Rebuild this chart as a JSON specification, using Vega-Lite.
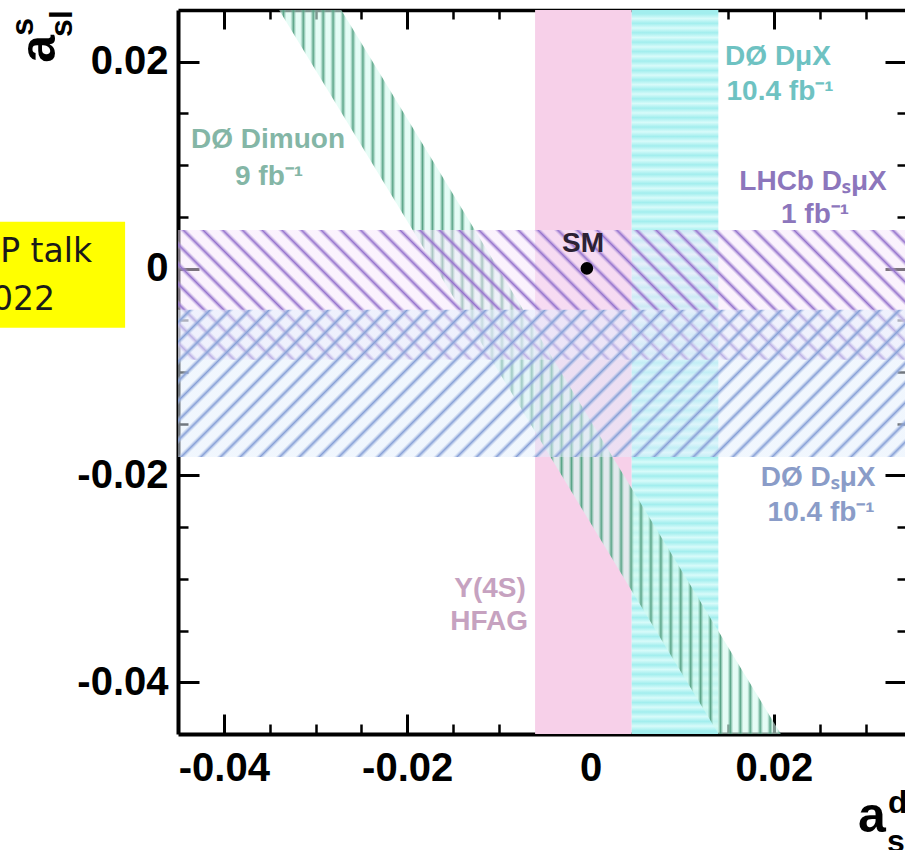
{
  "$schema": "https://vega.github.io/schema/vega-lite/v6.json",
  "width": 727,
  "height": 724,
  "autosize": {"type": "none"},
  "padding": {"left": 178, "top": 10, "right": 0, "bottom": 116},
  "background": "white",
  "config": {"view": {"stroke": null}, "axis": {"grid": false, "title": null, "zindex": 1, "tickColor": "black", "domainColor": "black", "labelColor": "black", "labelFont": "Liberation Sans", "labelFontWeight": "bold", "labelFontSize": 40, "labelOverlap": false, "labelBound": false, "labelFlush": false}},
  "datasets": {
    "bands": [
      {"band": "HFAG", "x1": -0.00605, "x2": 0.00449, "y1": -0.045, "y2": 0.025},
      {"band": "D0DmuX", "x1": 0.00449, "x2": 0.01394, "y1": -0.045, "y2": 0.025},
      {"band": "LHCb", "x1": -0.045, "x2": 0.0343, "y1": -0.00882, "y2": 0.00374},
      {"band": "D0DsmuX", "x1": -0.045, "x2": 0.0343, "y1": -0.01821, "y2": -0.00399}
    ],
    "dimuon": [
      {"x": -0.045, "ylo": 0.0411, "yhi": 0.051},
      {"x": 0.035, "ylo": -0.0757, "yhi": -0.0658}
    ],
    "labels": [
      {"text": "DØ Dimuon", "kind": "dimuon", "x": -0.03518, "y": 0.01167},
      {"text": "9 fb⁻¹", "kind": "dimuon", "x": -0.03507, "y": 0.00809},
      {"text": "DØ DμX", "kind": "dmux", "x": 0.02045, "y": 0.0197},
      {"text": "10.4 fb⁻¹", "kind": "dmux", "x": 0.02067, "y": 0.01631},
      {"text": "LHCb DₛμX", "kind": "lhcb", "x": 0.02427, "y": 0.00761},
      {"text": "1 fb⁻¹", "kind": "lhcb", "x": 0.02449, "y": 0.00442},
      {"text": "DØ DₛμX", "kind": "dsmux", "x": 0.02482, "y": -0.02102},
      {"text": "10.4 fb⁻¹", "kind": "dsmux", "x": 0.02515, "y": -0.02441},
      {"text": "Υ(4S)", "kind": "hfag", "x": -0.01096, "y": -0.03174},
      {"text": "HFAG", "kind": "hfag", "x": -0.01107, "y": -0.03493},
      {"text": "SM", "kind": "sm", "x": -0.00082, "y": 0.00161}
    ],
    "sm": [{"x": -0.0004, "y": 0.00002}],
    "note": [{"x1": -0.0665, "x2": -0.05077, "y1": 0.00452, "y2": -0.00573}],
    "noteText": [
      {"text": "ICHEP talk", "x": -0.05438, "y": 0.00065},
      {"text": "2022", "x": -0.05842, "y": -0.00399}
    ],
    "titles": [
      {"t": "a", "axis": "y", "part": "base", "x": -0.05842, "y": 0.01989},
      {"t": "s", "axis": "y", "part": "script", "x": -0.06082, "y": 0.0225},
      {"t": "sl", "axis": "y", "part": "script", "x": -0.05656, "y": 0.0224},
      {"t": "a", "axis": "x", "part": "base", "x": 0.02918, "y": -0.05446},
      {"t": "d", "axis": "x", "part": "script", "x": 0.03245, "y": -0.05263},
      {"t": "sl", "axis": "x", "part": "script", "x": 0.03235, "y": -0.0564}
    ]
  },
  "layer": [
    {
      "data": {"name": "note"},
      "mark": {"type": "rect", "clip": false, "fill": "#ffff00"},
      "encoding": {
        "x": {"field": "x1", "type": "quantitative", "scale": {"domain": [-0.045, 0.0343], "nice": false, "zero": false},
              "axis": {"orient": "bottom", "values": [-0.04, -0.02, 0, 0.02], "ticks": false, "domain": true, "domainWidth": 4, "labelPadding": 14,
                       "labelExpr": "datum.value == 0 ? '0' : (datum.value < 0 ? '-' : '') + format(abs(datum.value), '.2f')"}},
        "x2": {"field": "x2"},
        "y": {"field": "y1", "type": "quantitative", "scale": {"domain": [-0.045, 0.025], "nice": false, "zero": false},
              "axis": {"orient": "left", "values": [0.02, 0, -0.02, -0.04], "ticks": false, "domain": true, "domainWidth": 4, "labelPadding": 10,
                       "labelExpr": "datum.value == 0 ? '0' : (datum.value < 0 ? '-' : '') + format(abs(datum.value), '.2f')"}},
        "y2": {"field": "y2"}
      }
    },
    {
      "data": {"name": "bands"},
      "transform": [{"filter": "datum.band == 'HFAG'"}],
      "mark": {"type": "rect", "clip": true, "fill": "#f7d0e9"},
      "encoding": {
        "x": {"field": "x1", "type": "quantitative", "axis": {"orient": "bottom", "values": [-0.04, -0.02, 0, 0.02], "labels": false, "domain": false, "tickSize": -20, "tickWidth": 3}},
        "x2": {"field": "x2"},
        "y": {"field": "y1", "type": "quantitative", "axis": {"orient": "left", "values": [0.02, 0, -0.02, -0.04], "labels": false, "domain": false, "tickSize": -21, "tickWidth": 3}},
        "y2": {"field": "y2"}
      }
    },
    {
      "data": {"name": "bands"},
      "transform": [{"filter": "datum.band == 'D0DmuX'"}],
      "mark": {"type": "rect", "clip": true, "fill": {"gradient": "linear", "x1": 0, "y1": 0, "x2": 0, "y2": 1, "stops": [
        {"offset": 0.00534, "color": "#a2eeee"}, {"offset": 0.01186, "color": "#d8fbfa"},
        {"offset": 0.01837, "color": "#a2eeee"}, {"offset": 0.02489, "color": "#d8fbfa"},
        {"offset": 0.0314, "color": "#a2eeee"}, {"offset": 0.03792, "color": "#d8fbfa"},
        {"offset": 0.04443, "color": "#a2eeee"}, {"offset": 0.05095, "color": "#d8fbfa"},
        {"offset": 0.05746, "color": "#a2eeee"}, {"offset": 0.06398, "color": "#d8fbfa"},
        {"offset": 0.07049, "color": "#a2eeee"}, {"offset": 0.07701, "color": "#d8fbfa"},
        {"offset": 0.08352, "color": "#a2eeee"}, {"offset": 0.09004, "color": "#d8fbfa"},
        {"offset": 0.09655, "color": "#a2eeee"}, {"offset": 0.10307, "color": "#d8fbfa"},
        {"offset": 0.10958, "color": "#a2eeee"}, {"offset": 0.1161, "color": "#d8fbfa"},
        {"offset": 0.12261, "color": "#a2eeee"}, {"offset": 0.12913, "color": "#d8fbfa"},
        {"offset": 0.13564, "color": "#a2eeee"}, {"offset": 0.14216, "color": "#d8fbfa"},
        {"offset": 0.14867, "color": "#a2eeee"}, {"offset": 0.15519, "color": "#d8fbfa"},
        {"offset": 0.1617, "color": "#a2eeee"}, {"offset": 0.16822, "color": "#d8fbfa"},
        {"offset": 0.17473, "color": "#a2eeee"}, {"offset": 0.18125, "color": "#d8fbfa"},
        {"offset": 0.18776, "color": "#a2eeee"}, {"offset": 0.19428, "color": "#d8fbfa"},
        {"offset": 0.20079, "color": "#a2eeee"}, {"offset": 0.20731, "color": "#d8fbfa"},
        {"offset": 0.21382, "color": "#a2eeee"}, {"offset": 0.22034, "color": "#d8fbfa"},
        {"offset": 0.22685, "color": "#a2eeee"}, {"offset": 0.23337, "color": "#d8fbfa"},
        {"offset": 0.23988, "color": "#a2eeee"}, {"offset": 0.2464, "color": "#d8fbfa"},
        {"offset": 0.25291, "color": "#a2eeee"}, {"offset": 0.25943, "color": "#d8fbfa"},
        {"offset": 0.26594, "color": "#a2eeee"}, {"offset": 0.27246, "color": "#d8fbfa"},
        {"offset": 0.27897, "color": "#a2eeee"}, {"offset": 0.28549, "color": "#d8fbfa"},
        {"offset": 0.292, "color": "#a2eeee"}, {"offset": 0.29852, "color": "#d8fbfa"},
        {"offset": 0.30503, "color": "#a2eeee"}, {"offset": 0.31155, "color": "#d8fbfa"},
        {"offset": 0.31806, "color": "#a2eeee"}, {"offset": 0.32458, "color": "#d8fbfa"},
        {"offset": 0.33109, "color": "#a2eeee"}, {"offset": 0.33761, "color": "#d8fbfa"},
        {"offset": 0.34412, "color": "#a2eeee"}, {"offset": 0.35064, "color": "#d8fbfa"},
        {"offset": 0.35715, "color": "#a2eeee"}, {"offset": 0.36367, "color": "#d8fbfa"},
        {"offset": 0.37018, "color": "#a2eeee"}, {"offset": 0.3767, "color": "#d8fbfa"},
        {"offset": 0.38321, "color": "#a2eeee"}, {"offset": 0.38973, "color": "#d8fbfa"},
        {"offset": 0.39624, "color": "#a2eeee"}, {"offset": 0.40276, "color": "#d8fbfa"},
        {"offset": 0.40927, "color": "#a2eeee"}, {"offset": 0.41579, "color": "#d8fbfa"},
        {"offset": 0.4223, "color": "#a2eeee"}, {"offset": 0.42882, "color": "#d8fbfa"},
        {"offset": 0.43533, "color": "#a2eeee"}, {"offset": 0.44185, "color": "#d8fbfa"},
        {"offset": 0.44836, "color": "#a2eeee"}, {"offset": 0.45488, "color": "#d8fbfa"},
        {"offset": 0.46139, "color": "#a2eeee"}, {"offset": 0.46791, "color": "#d8fbfa"},
        {"offset": 0.47442, "color": "#a2eeee"}, {"offset": 0.48094, "color": "#d8fbfa"},
        {"offset": 0.48745, "color": "#a2eeee"}, {"offset": 0.49397, "color": "#d8fbfa"},
        {"offset": 0.50048, "color": "#a2eeee"}, {"offset": 0.507, "color": "#d8fbfa"},
        {"offset": 0.51351, "color": "#a2eeee"}, {"offset": 0.52003, "color": "#d8fbfa"},
        {"offset": 0.52654, "color": "#a2eeee"}, {"offset": 0.53306, "color": "#d8fbfa"},
        {"offset": 0.53957, "color": "#a2eeee"}, {"offset": 0.54609, "color": "#d8fbfa"},
        {"offset": 0.5526, "color": "#a2eeee"}, {"offset": 0.55912, "color": "#d8fbfa"},
        {"offset": 0.56563, "color": "#a2eeee"}, {"offset": 0.57215, "color": "#d8fbfa"},
        {"offset": 0.57866, "color": "#a2eeee"}, {"offset": 0.58518, "color": "#d8fbfa"},
        {"offset": 0.59169, "color": "#a2eeee"}, {"offset": 0.59821, "color": "#d8fbfa"},
        {"offset": 0.60472, "color": "#a2eeee"}, {"offset": 0.61124, "color": "#d8fbfa"},
        {"offset": 0.61775, "color": "#a2eeee"}, {"offset": 0.62427, "color": "#d8fbfa"},
        {"offset": 0.63078, "color": "#a2eeee"}, {"offset": 0.6373, "color": "#d8fbfa"},
        {"offset": 0.64381, "color": "#a2eeee"}, {"offset": 0.65033, "color": "#d8fbfa"},
        {"offset": 0.65684, "color": "#a2eeee"}, {"offset": 0.66336, "color": "#d8fbfa"},
        {"offset": 0.66987, "color": "#a2eeee"}, {"offset": 0.67639, "color": "#d8fbfa"},
        {"offset": 0.6829, "color": "#a2eeee"}, {"offset": 0.68942, "color": "#d8fbfa"},
        {"offset": 0.69593, "color": "#a2eeee"}, {"offset": 0.70245, "color": "#d8fbfa"},
        {"offset": 0.70896, "color": "#a2eeee"}, {"offset": 0.71548, "color": "#d8fbfa"},
        {"offset": 0.72199, "color": "#a2eeee"}, {"offset": 0.72851, "color": "#d8fbfa"},
        {"offset": 0.73502, "color": "#a2eeee"}, {"offset": 0.74154, "color": "#d8fbfa"},
        {"offset": 0.74805, "color": "#a2eeee"}, {"offset": 0.75457, "color": "#d8fbfa"},
        {"offset": 0.76108, "color": "#a2eeee"}, {"offset": 0.7676, "color": "#d8fbfa"},
        {"offset": 0.77411, "color": "#a2eeee"}, {"offset": 0.78063, "color": "#d8fbfa"},
        {"offset": 0.78714, "color": "#a2eeee"}, {"offset": 0.79366, "color": "#d8fbfa"},
        {"offset": 0.80017, "color": "#a2eeee"}, {"offset": 0.80669, "color": "#d8fbfa"},
        {"offset": 0.8132, "color": "#a2eeee"}, {"offset": 0.81972, "color": "#d8fbfa"},
        {"offset": 0.82623, "color": "#a2eeee"}, {"offset": 0.83275, "color": "#d8fbfa"},
        {"offset": 0.83926, "color": "#a2eeee"}, {"offset": 0.84578, "color": "#d8fbfa"},
        {"offset": 0.85229, "color": "#a2eeee"}, {"offset": 0.85881, "color": "#d8fbfa"},
        {"offset": 0.86532, "color": "#a2eeee"}, {"offset": 0.87184, "color": "#d8fbfa"},
        {"offset": 0.87835, "color": "#a2eeee"}, {"offset": 0.88487, "color": "#d8fbfa"},
        {"offset": 0.89138, "color": "#a2eeee"}, {"offset": 0.8979, "color": "#d8fbfa"},
        {"offset": 0.90441, "color": "#a2eeee"}, {"offset": 0.91093, "color": "#d8fbfa"},
        {"offset": 0.91744, "color": "#a2eeee"}, {"offset": 0.92396, "color": "#d8fbfa"},
        {"offset": 0.93047, "color": "#a2eeee"}, {"offset": 0.93699, "color": "#d8fbfa"},
        {"offset": 0.9435, "color": "#a2eeee"}, {"offset": 0.95002, "color": "#d8fbfa"},
        {"offset": 0.95653, "color": "#a2eeee"}, {"offset": 0.96305, "color": "#d8fbfa"},
        {"offset": 0.96956, "color": "#a2eeee"}, {"offset": 0.97608, "color": "#d8fbfa"},
        {"offset": 0.98259, "color": "#a2eeee"}, {"offset": 0.98911, "color": "#d8fbfa"},
        {"offset": 0.99562, "color": "#a2eeee"}
      ]}},
      "encoding": {
        "x": {"field": "x1", "type": "quantitative", "axis": {"orient": "bottom", "values": [-0.04, -0.035, -0.03, -0.025, -0.02, -0.015, -0.01, -0.005, 0, 0.005, 0.01, 0.015, 0.02, 0.025, 0.03], "labels": false, "domain": false, "tickSize": -10, "tickWidth": 2.5}},
        "x2": {"field": "x2"},
        "y": {"field": "y1", "type": "quantitative", "axis": {"orient": "left", "values": [0.02, 0.015, 0.01, 0.005, 0, -0.005, -0.01, -0.015, -0.02, -0.025, -0.03, -0.035, -0.04], "labels": false, "domain": false, "tickSize": -10, "tickWidth": 2.5}},
        "y2": {"field": "y2"}
      }
    },
    {
      "data": {"name": "dimuon"},
      "mark": {"type": "area", "clip": true, "fill": {"gradient": "linear", "x1": 0, "y1": 0, "x2": 1, "y2": 0, "stops": [
        {"offset": 0.13965, "color": "#d4faef99"}, {"offset": 0.14375, "color": "#59a386"}, {"offset": 0.14785, "color": "#d4faef99"},
        {"offset": 0.1532, "color": "#d4faef99"}, {"offset": 0.1573, "color": "#59a386"}, {"offset": 0.1614, "color": "#d4faef99"},
        {"offset": 0.16674, "color": "#d4faef99"}, {"offset": 0.17084, "color": "#59a386"}, {"offset": 0.17494, "color": "#d4faef99"},
        {"offset": 0.18028, "color": "#d4faef99"}, {"offset": 0.18438, "color": "#59a386"}, {"offset": 0.18848, "color": "#d4faef99"},
        {"offset": 0.19383, "color": "#d4faef99"}, {"offset": 0.19793, "color": "#59a386"}, {"offset": 0.20203, "color": "#d4faef99"},
        {"offset": 0.20737, "color": "#d4faef99"}, {"offset": 0.21147, "color": "#59a386"}, {"offset": 0.21557, "color": "#d4faef99"},
        {"offset": 0.22091, "color": "#d4faef99"}, {"offset": 0.22501, "color": "#59a386"}, {"offset": 0.22911, "color": "#d4faef99"},
        {"offset": 0.23445, "color": "#d4faef99"}, {"offset": 0.23855, "color": "#59a386"}, {"offset": 0.24265, "color": "#d4faef99"},
        {"offset": 0.248, "color": "#d4faef99"}, {"offset": 0.2521, "color": "#59a386"}, {"offset": 0.2562, "color": "#d4faef99"},
        {"offset": 0.26154, "color": "#d4faef99"}, {"offset": 0.26564, "color": "#59a386"}, {"offset": 0.26974, "color": "#d4faef99"},
        {"offset": 0.27508, "color": "#d4faef99"}, {"offset": 0.27918, "color": "#59a386"}, {"offset": 0.28328, "color": "#d4faef99"},
        {"offset": 0.28863, "color": "#d4faef99"}, {"offset": 0.29273, "color": "#59a386"}, {"offset": 0.29683, "color": "#d4faef99"},
        {"offset": 0.30217, "color": "#d4faef99"}, {"offset": 0.30627, "color": "#59a386"}, {"offset": 0.31037, "color": "#d4faef99"},
        {"offset": 0.31571, "color": "#d4faef99"}, {"offset": 0.31981, "color": "#59a386"}, {"offset": 0.32391, "color": "#d4faef99"},
        {"offset": 0.32926, "color": "#d4faef99"}, {"offset": 0.33336, "color": "#59a386"}, {"offset": 0.33746, "color": "#d4faef99"},
        {"offset": 0.3428, "color": "#d4faef99"}, {"offset": 0.3469, "color": "#59a386"}, {"offset": 0.351, "color": "#d4faef99"},
        {"offset": 0.35634, "color": "#d4faef99"}, {"offset": 0.36044, "color": "#59a386"}, {"offset": 0.36454, "color": "#d4faef99"},
        {"offset": 0.36988, "color": "#d4faef99"}, {"offset": 0.37398, "color": "#59a386"}, {"offset": 0.37808, "color": "#d4faef99"},
        {"offset": 0.38343, "color": "#d4faef99"}, {"offset": 0.38753, "color": "#59a386"}, {"offset": 0.39163, "color": "#d4faef99"},
        {"offset": 0.39697, "color": "#d4faef99"}, {"offset": 0.40107, "color": "#59a386"}, {"offset": 0.40517, "color": "#d4faef99"},
        {"offset": 0.41051, "color": "#d4faef99"}, {"offset": 0.41461, "color": "#59a386"}, {"offset": 0.41871, "color": "#d4faef99"},
        {"offset": 0.42406, "color": "#d4faef99"}, {"offset": 0.42816, "color": "#59a386"}, {"offset": 0.43226, "color": "#d4faef99"},
        {"offset": 0.4376, "color": "#d4faef99"}, {"offset": 0.4417, "color": "#59a386"}, {"offset": 0.4458, "color": "#d4faef99"},
        {"offset": 0.45114, "color": "#d4faef99"}, {"offset": 0.45524, "color": "#59a386"}, {"offset": 0.45934, "color": "#d4faef99"},
        {"offset": 0.46469, "color": "#d4faef99"}, {"offset": 0.46879, "color": "#59a386"}, {"offset": 0.47289, "color": "#d4faef99"},
        {"offset": 0.47823, "color": "#d4faef99"}, {"offset": 0.48233, "color": "#59a386"}, {"offset": 0.48643, "color": "#d4faef99"},
        {"offset": 0.49177, "color": "#d4faef99"}, {"offset": 0.49587, "color": "#59a386"}, {"offset": 0.49997, "color": "#d4faef99"},
        {"offset": 0.50531, "color": "#d4faef99"}, {"offset": 0.50941, "color": "#59a386"}, {"offset": 0.51351, "color": "#d4faef99"},
        {"offset": 0.51886, "color": "#d4faef99"}, {"offset": 0.52296, "color": "#59a386"}, {"offset": 0.52706, "color": "#d4faef99"},
        {"offset": 0.5324, "color": "#d4faef99"}, {"offset": 0.5365, "color": "#59a386"}, {"offset": 0.5406, "color": "#d4faef99"},
        {"offset": 0.54594, "color": "#d4faef99"}, {"offset": 0.55004, "color": "#59a386"}, {"offset": 0.55414, "color": "#d4faef99"},
        {"offset": 0.55949, "color": "#d4faef99"}, {"offset": 0.56359, "color": "#59a386"}, {"offset": 0.56769, "color": "#d4faef99"},
        {"offset": 0.57303, "color": "#d4faef99"}, {"offset": 0.57713, "color": "#59a386"}, {"offset": 0.58123, "color": "#d4faef99"},
        {"offset": 0.58657, "color": "#d4faef99"}, {"offset": 0.59067, "color": "#59a386"}, {"offset": 0.59477, "color": "#d4faef99"},
        {"offset": 0.60012, "color": "#d4faef99"}, {"offset": 0.60422, "color": "#59a386"}, {"offset": 0.60832, "color": "#d4faef99"},
        {"offset": 0.61366, "color": "#d4faef99"}, {"offset": 0.61776, "color": "#59a386"}, {"offset": 0.62186, "color": "#d4faef99"},
        {"offset": 0.6272, "color": "#d4faef99"}, {"offset": 0.6313, "color": "#59a386"}, {"offset": 0.6354, "color": "#d4faef99"},
        {"offset": 0.64074, "color": "#d4faef99"}, {"offset": 0.64484, "color": "#59a386"}, {"offset": 0.64894, "color": "#d4faef99"},
        {"offset": 0.65429, "color": "#d4faef99"}, {"offset": 0.65839, "color": "#59a386"}, {"offset": 0.66249, "color": "#d4faef99"},
        {"offset": 0.66783, "color": "#d4faef99"}, {"offset": 0.67193, "color": "#59a386"}, {"offset": 0.67603, "color": "#d4faef99"},
        {"offset": 0.68137, "color": "#d4faef99"}, {"offset": 0.68547, "color": "#59a386"}, {"offset": 0.68957, "color": "#d4faef99"},
        {"offset": 0.69492, "color": "#d4faef99"}, {"offset": 0.69902, "color": "#59a386"}, {"offset": 0.70312, "color": "#d4faef99"},
        {"offset": 0.70846, "color": "#d4faef99"}, {"offset": 0.71256, "color": "#59a386"}, {"offset": 0.71666, "color": "#d4faef99"},
        {"offset": 0.722, "color": "#d4faef99"}, {"offset": 0.7261, "color": "#59a386"}, {"offset": 0.7302, "color": "#d4faef99"},
        {"offset": 0.73555, "color": "#d4faef99"}, {"offset": 0.73965, "color": "#59a386"}, {"offset": 0.74375, "color": "#d4faef99"},
        {"offset": 0.74909, "color": "#d4faef99"}, {"offset": 0.75319, "color": "#59a386"}, {"offset": 0.75729, "color": "#d4faef99"},
        {"offset": 0.76263, "color": "#d4faef99"}, {"offset": 0.76673, "color": "#59a386"}, {"offset": 0.77083, "color": "#d4faef99"},
        {"offset": 0.77617, "color": "#d4faef99"}, {"offset": 0.78027, "color": "#59a386"}, {"offset": 0.78437, "color": "#d4faef99"},
        {"offset": 0.78972, "color": "#d4faef99"}, {"offset": 0.79382, "color": "#59a386"}, {"offset": 0.79792, "color": "#d4faef99"},
        {"offset": 0.80326, "color": "#d4faef99"}, {"offset": 0.80736, "color": "#59a386"}, {"offset": 0.81146, "color": "#d4faef99"},
        {"offset": 0.8168, "color": "#d4faef99"}, {"offset": 0.8209, "color": "#59a386"}, {"offset": 0.825, "color": "#d4faef99"}
      ]}},
      "encoding": {
        "x": {"field": "x", "type": "quantitative", "axis": null},
        "y": {"field": "yhi", "type": "quantitative", "axis": null},
        "y2": {"field": "ylo"}
      }
    },
    {
      "data": {"name": "bands"},
      "transform": [{"filter": "datum.band == 'LHCb'"}],
      "mark": {"type": "rect", "clip": true, "fill": {"gradient": "linear", "x1": 0, "y1": 1, "x2": 1.14221, "y2": 0.79591, "stops": [
        {"offset": 0.01447, "color": "#f6e6fb80"}, {"offset": 0.01972, "color": "#9472cc"}, {"offset": 0.02497, "color": "#f6e6fb80"},
        {"offset": 0.03746, "color": "#f6e6fb80"}, {"offset": 0.04271, "color": "#9472cc"}, {"offset": 0.04796, "color": "#f6e6fb80"},
        {"offset": 0.06045, "color": "#f6e6fb80"}, {"offset": 0.0657, "color": "#9472cc"}, {"offset": 0.07095, "color": "#f6e6fb80"},
        {"offset": 0.08344, "color": "#f6e6fb80"}, {"offset": 0.08869, "color": "#9472cc"}, {"offset": 0.09394, "color": "#f6e6fb80"},
        {"offset": 0.10643, "color": "#f6e6fb80"}, {"offset": 0.11168, "color": "#9472cc"}, {"offset": 0.11693, "color": "#f6e6fb80"},
        {"offset": 0.12942, "color": "#f6e6fb80"}, {"offset": 0.13467, "color": "#9472cc"}, {"offset": 0.13992, "color": "#f6e6fb80"},
        {"offset": 0.15241, "color": "#f6e6fb80"}, {"offset": 0.15766, "color": "#9472cc"}, {"offset": 0.16291, "color": "#f6e6fb80"},
        {"offset": 0.1754, "color": "#f6e6fb80"}, {"offset": 0.18065, "color": "#9472cc"}, {"offset": 0.1859, "color": "#f6e6fb80"},
        {"offset": 0.19839, "color": "#f6e6fb80"}, {"offset": 0.20364, "color": "#9472cc"}, {"offset": 0.20889, "color": "#f6e6fb80"},
        {"offset": 0.22138, "color": "#f6e6fb80"}, {"offset": 0.22663, "color": "#9472cc"}, {"offset": 0.23188, "color": "#f6e6fb80"},
        {"offset": 0.24437, "color": "#f6e6fb80"}, {"offset": 0.24962, "color": "#9472cc"}, {"offset": 0.25487, "color": "#f6e6fb80"},
        {"offset": 0.26736, "color": "#f6e6fb80"}, {"offset": 0.27261, "color": "#9472cc"}, {"offset": 0.27786, "color": "#f6e6fb80"},
        {"offset": 0.29035, "color": "#f6e6fb80"}, {"offset": 0.2956, "color": "#9472cc"}, {"offset": 0.30085, "color": "#f6e6fb80"},
        {"offset": 0.31334, "color": "#f6e6fb80"}, {"offset": 0.31859, "color": "#9472cc"}, {"offset": 0.32384, "color": "#f6e6fb80"},
        {"offset": 0.33633, "color": "#f6e6fb80"}, {"offset": 0.34158, "color": "#9472cc"}, {"offset": 0.34683, "color": "#f6e6fb80"},
        {"offset": 0.35932, "color": "#f6e6fb80"}, {"offset": 0.36457, "color": "#9472cc"}, {"offset": 0.36982, "color": "#f6e6fb80"},
        {"offset": 0.38231, "color": "#f6e6fb80"}, {"offset": 0.38756, "color": "#9472cc"}, {"offset": 0.39281, "color": "#f6e6fb80"},
        {"offset": 0.4053, "color": "#f6e6fb80"}, {"offset": 0.41055, "color": "#9472cc"}, {"offset": 0.4158, "color": "#f6e6fb80"},
        {"offset": 0.42829, "color": "#f6e6fb80"}, {"offset": 0.43354, "color": "#9472cc"}, {"offset": 0.43879, "color": "#f6e6fb80"},
        {"offset": 0.45128, "color": "#f6e6fb80"}, {"offset": 0.45653, "color": "#9472cc"}, {"offset": 0.46178, "color": "#f6e6fb80"},
        {"offset": 0.47427, "color": "#f6e6fb80"}, {"offset": 0.47952, "color": "#9472cc"}, {"offset": 0.48477, "color": "#f6e6fb80"},
        {"offset": 0.49726, "color": "#f6e6fb80"}, {"offset": 0.50251, "color": "#9472cc"}, {"offset": 0.50776, "color": "#f6e6fb80"},
        {"offset": 0.52025, "color": "#f6e6fb80"}, {"offset": 0.5255, "color": "#9472cc"}, {"offset": 0.53075, "color": "#f6e6fb80"},
        {"offset": 0.54324, "color": "#f6e6fb80"}, {"offset": 0.54849, "color": "#9472cc"}, {"offset": 0.55374, "color": "#f6e6fb80"},
        {"offset": 0.56623, "color": "#f6e6fb80"}, {"offset": 0.57148, "color": "#9472cc"}, {"offset": 0.57673, "color": "#f6e6fb80"},
        {"offset": 0.58922, "color": "#f6e6fb80"}, {"offset": 0.59447, "color": "#9472cc"}, {"offset": 0.59972, "color": "#f6e6fb80"},
        {"offset": 0.61221, "color": "#f6e6fb80"}, {"offset": 0.61746, "color": "#9472cc"}, {"offset": 0.62271, "color": "#f6e6fb80"},
        {"offset": 0.6352, "color": "#f6e6fb80"}, {"offset": 0.64045, "color": "#9472cc"}, {"offset": 0.6457, "color": "#f6e6fb80"},
        {"offset": 0.65819, "color": "#f6e6fb80"}, {"offset": 0.66344, "color": "#9472cc"}, {"offset": 0.66869, "color": "#f6e6fb80"},
        {"offset": 0.68118, "color": "#f6e6fb80"}, {"offset": 0.68643, "color": "#9472cc"}, {"offset": 0.69168, "color": "#f6e6fb80"},
        {"offset": 0.70417, "color": "#f6e6fb80"}, {"offset": 0.70942, "color": "#9472cc"}, {"offset": 0.71467, "color": "#f6e6fb80"},
        {"offset": 0.72716, "color": "#f6e6fb80"}, {"offset": 0.73241, "color": "#9472cc"}, {"offset": 0.73766, "color": "#f6e6fb80"},
        {"offset": 0.75015, "color": "#f6e6fb80"}, {"offset": 0.7554, "color": "#9472cc"}, {"offset": 0.76065, "color": "#f6e6fb80"},
        {"offset": 0.77314, "color": "#f6e6fb80"}, {"offset": 0.77839, "color": "#9472cc"}, {"offset": 0.78364, "color": "#f6e6fb80"},
        {"offset": 0.79613, "color": "#f6e6fb80"}, {"offset": 0.80138, "color": "#9472cc"}, {"offset": 0.80663, "color": "#f6e6fb80"},
        {"offset": 0.81912, "color": "#f6e6fb80"}, {"offset": 0.82437, "color": "#9472cc"}, {"offset": 0.82962, "color": "#f6e6fb80"},
        {"offset": 0.84211, "color": "#f6e6fb80"}, {"offset": 0.84736, "color": "#9472cc"}, {"offset": 0.85261, "color": "#f6e6fb80"},
        {"offset": 0.8651, "color": "#f6e6fb80"}, {"offset": 0.87035, "color": "#9472cc"}, {"offset": 0.8756, "color": "#f6e6fb80"},
        {"offset": 0.88809, "color": "#f6e6fb80"}, {"offset": 0.89334, "color": "#9472cc"}, {"offset": 0.89859, "color": "#f6e6fb80"},
        {"offset": 0.91108, "color": "#f6e6fb80"}, {"offset": 0.91633, "color": "#9472cc"}, {"offset": 0.92158, "color": "#f6e6fb80"},
        {"offset": 0.93407, "color": "#f6e6fb80"}, {"offset": 0.93932, "color": "#9472cc"}, {"offset": 0.94457, "color": "#f6e6fb80"},
        {"offset": 0.95706, "color": "#f6e6fb80"}, {"offset": 0.96231, "color": "#9472cc"}, {"offset": 0.96756, "color": "#f6e6fb80"},
        {"offset": 0.98005, "color": "#f6e6fb80"}, {"offset": 0.9853, "color": "#9472cc"}, {"offset": 0.99055, "color": "#f6e6fb80"}
      ]}},
      "encoding": {
        "x": {"field": "x1", "type": "quantitative", "axis": {"orient": "top", "values": [-0.04, -0.02, 0, 0.02], "labels": false, "domain": true, "domainWidth": 3.5, "tickSize": -19, "tickWidth": 3}},
        "x2": {"field": "x2"},
        "y": {"field": "y1", "type": "quantitative", "axis": {"orient": "right", "values": [0.02, 0, -0.02, -0.04], "labels": false, "domain": false, "tickSize": -20, "tickWidth": 3}},
        "y2": {"field": "y2"}
      }
    },
    {
      "data": {"name": "bands"},
      "transform": [{"filter": "datum.band == 'D0DsmuX'"}],
      "mark": {"type": "rect", "clip": true, "fill": {"gradient": "linear", "x1": 0, "y1": 0, "x2": 1.15506, "y2": 0.23371, "stops": [
        {"offset": 0.00905, "color": "#e2eefc80"}, {"offset": 0.0142, "color": "#869fd6"}, {"offset": 0.01935, "color": "#e2eefc80"},
        {"offset": 0.03159, "color": "#e2eefc80"}, {"offset": 0.03674, "color": "#869fd6"}, {"offset": 0.04189, "color": "#e2eefc80"},
        {"offset": 0.05413, "color": "#e2eefc80"}, {"offset": 0.05928, "color": "#869fd6"}, {"offset": 0.06443, "color": "#e2eefc80"},
        {"offset": 0.07666, "color": "#e2eefc80"}, {"offset": 0.08181, "color": "#869fd6"}, {"offset": 0.08696, "color": "#e2eefc80"},
        {"offset": 0.0992, "color": "#e2eefc80"}, {"offset": 0.10435, "color": "#869fd6"}, {"offset": 0.1095, "color": "#e2eefc80"},
        {"offset": 0.12174, "color": "#e2eefc80"}, {"offset": 0.12689, "color": "#869fd6"}, {"offset": 0.13204, "color": "#e2eefc80"},
        {"offset": 0.14428, "color": "#e2eefc80"}, {"offset": 0.14943, "color": "#869fd6"}, {"offset": 0.15458, "color": "#e2eefc80"},
        {"offset": 0.16681, "color": "#e2eefc80"}, {"offset": 0.17196, "color": "#869fd6"}, {"offset": 0.17711, "color": "#e2eefc80"},
        {"offset": 0.18935, "color": "#e2eefc80"}, {"offset": 0.1945, "color": "#869fd6"}, {"offset": 0.19965, "color": "#e2eefc80"},
        {"offset": 0.21189, "color": "#e2eefc80"}, {"offset": 0.21704, "color": "#869fd6"}, {"offset": 0.22219, "color": "#e2eefc80"},
        {"offset": 0.23442, "color": "#e2eefc80"}, {"offset": 0.23957, "color": "#869fd6"}, {"offset": 0.24472, "color": "#e2eefc80"},
        {"offset": 0.25696, "color": "#e2eefc80"}, {"offset": 0.26211, "color": "#869fd6"}, {"offset": 0.26726, "color": "#e2eefc80"},
        {"offset": 0.2795, "color": "#e2eefc80"}, {"offset": 0.28465, "color": "#869fd6"}, {"offset": 0.2898, "color": "#e2eefc80"},
        {"offset": 0.30204, "color": "#e2eefc80"}, {"offset": 0.30719, "color": "#869fd6"}, {"offset": 0.31234, "color": "#e2eefc80"},
        {"offset": 0.32457, "color": "#e2eefc80"}, {"offset": 0.32972, "color": "#869fd6"}, {"offset": 0.33487, "color": "#e2eefc80"},
        {"offset": 0.34711, "color": "#e2eefc80"}, {"offset": 0.35226, "color": "#869fd6"}, {"offset": 0.35741, "color": "#e2eefc80"},
        {"offset": 0.36965, "color": "#e2eefc80"}, {"offset": 0.3748, "color": "#869fd6"}, {"offset": 0.37995, "color": "#e2eefc80"},
        {"offset": 0.39218, "color": "#e2eefc80"}, {"offset": 0.39733, "color": "#869fd6"}, {"offset": 0.40248, "color": "#e2eefc80"},
        {"offset": 0.41472, "color": "#e2eefc80"}, {"offset": 0.41987, "color": "#869fd6"}, {"offset": 0.42502, "color": "#e2eefc80"},
        {"offset": 0.43726, "color": "#e2eefc80"}, {"offset": 0.44241, "color": "#869fd6"}, {"offset": 0.44756, "color": "#e2eefc80"},
        {"offset": 0.45979, "color": "#e2eefc80"}, {"offset": 0.46494, "color": "#869fd6"}, {"offset": 0.47009, "color": "#e2eefc80"},
        {"offset": 0.48233, "color": "#e2eefc80"}, {"offset": 0.48748, "color": "#869fd6"}, {"offset": 0.49263, "color": "#e2eefc80"},
        {"offset": 0.50487, "color": "#e2eefc80"}, {"offset": 0.51002, "color": "#869fd6"}, {"offset": 0.51517, "color": "#e2eefc80"},
        {"offset": 0.52741, "color": "#e2eefc80"}, {"offset": 0.53256, "color": "#869fd6"}, {"offset": 0.53771, "color": "#e2eefc80"},
        {"offset": 0.54994, "color": "#e2eefc80"}, {"offset": 0.55509, "color": "#869fd6"}, {"offset": 0.56024, "color": "#e2eefc80"},
        {"offset": 0.57248, "color": "#e2eefc80"}, {"offset": 0.57763, "color": "#869fd6"}, {"offset": 0.58278, "color": "#e2eefc80"},
        {"offset": 0.59502, "color": "#e2eefc80"}, {"offset": 0.60017, "color": "#869fd6"}, {"offset": 0.60532, "color": "#e2eefc80"},
        {"offset": 0.61755, "color": "#e2eefc80"}, {"offset": 0.6227, "color": "#869fd6"}, {"offset": 0.62785, "color": "#e2eefc80"},
        {"offset": 0.64009, "color": "#e2eefc80"}, {"offset": 0.64524, "color": "#869fd6"}, {"offset": 0.65039, "color": "#e2eefc80"},
        {"offset": 0.66263, "color": "#e2eefc80"}, {"offset": 0.66778, "color": "#869fd6"}, {"offset": 0.67293, "color": "#e2eefc80"},
        {"offset": 0.68516, "color": "#e2eefc80"}, {"offset": 0.69031, "color": "#869fd6"}, {"offset": 0.69546, "color": "#e2eefc80"},
        {"offset": 0.7077, "color": "#e2eefc80"}, {"offset": 0.71285, "color": "#869fd6"}, {"offset": 0.718, "color": "#e2eefc80"},
        {"offset": 0.73024, "color": "#e2eefc80"}, {"offset": 0.73539, "color": "#869fd6"}, {"offset": 0.74054, "color": "#e2eefc80"},
        {"offset": 0.75278, "color": "#e2eefc80"}, {"offset": 0.75793, "color": "#869fd6"}, {"offset": 0.76308, "color": "#e2eefc80"},
        {"offset": 0.77531, "color": "#e2eefc80"}, {"offset": 0.78046, "color": "#869fd6"}, {"offset": 0.78561, "color": "#e2eefc80"},
        {"offset": 0.79785, "color": "#e2eefc80"}, {"offset": 0.803, "color": "#869fd6"}, {"offset": 0.80815, "color": "#e2eefc80"},
        {"offset": 0.82039, "color": "#e2eefc80"}, {"offset": 0.82554, "color": "#869fd6"}, {"offset": 0.83069, "color": "#e2eefc80"},
        {"offset": 0.84292, "color": "#e2eefc80"}, {"offset": 0.84807, "color": "#869fd6"}, {"offset": 0.85322, "color": "#e2eefc80"},
        {"offset": 0.86546, "color": "#e2eefc80"}, {"offset": 0.87061, "color": "#869fd6"}, {"offset": 0.87576, "color": "#e2eefc80"},
        {"offset": 0.888, "color": "#e2eefc80"}, {"offset": 0.89315, "color": "#869fd6"}, {"offset": 0.8983, "color": "#e2eefc80"},
        {"offset": 0.91054, "color": "#e2eefc80"}, {"offset": 0.91569, "color": "#869fd6"}, {"offset": 0.92084, "color": "#e2eefc80"},
        {"offset": 0.93307, "color": "#e2eefc80"}, {"offset": 0.93822, "color": "#869fd6"}, {"offset": 0.94337, "color": "#e2eefc80"},
        {"offset": 0.95561, "color": "#e2eefc80"}, {"offset": 0.96076, "color": "#869fd6"}, {"offset": 0.96591, "color": "#e2eefc80"},
        {"offset": 0.97815, "color": "#e2eefc80"}, {"offset": 0.9833, "color": "#869fd6"}, {"offset": 0.98845, "color": "#e2eefc80"}
      ]}},
      "encoding": {
        "x": {"field": "x1", "type": "quantitative", "axis": {"orient": "top", "values": [-0.04, -0.035, -0.03, -0.025, -0.02, -0.015, -0.01, -0.005, 0, 0.005, 0.01, 0.015, 0.02, 0.025, 0.03], "labels": false, "domain": false, "tickSize": -9, "tickWidth": 2.5}},
        "x2": {"field": "x2"},
        "y": {"field": "y1", "type": "quantitative", "axis": {"orient": "right", "values": [0.02, 0.015, 0.01, 0.005, 0, -0.005, -0.01, -0.015, -0.02, -0.025, -0.03, -0.035, -0.04], "labels": false, "domain": false, "tickSize": -8, "tickWidth": 2.5}},
        "y2": {"field": "y2"}
      }
    },
    {
      "data": {"name": "labels"},
      "mark": {"type": "text", "clip": false, "font": "Liberation Sans", "fontWeight": "bold", "fontSize": 28, "align": "center", "baseline": "alphabetic"},
      "encoding": {
        "x": {"field": "x", "type": "quantitative", "axis": null},
        "y": {"field": "y", "type": "quantitative", "axis": null},
        "text": {"field": "text", "type": "nominal"},
        "color": {"field": "kind", "type": "nominal", "legend": null,
                  "scale": {"domain": ["dimuon", "dmux", "lhcb", "dsmux", "hfag", "sm"], "range": ["#84b6a6", "#6ec2c2", "#8c76bc", "#8a9cc8", "#c6a2c0", "#2c2234"]}}
      }
    },
    {
      "data": {"name": "sm"},
      "mark": {"type": "point", "filled": true, "size": 160, "color": "black", "opacity": 1},
      "encoding": {
        "x": {"field": "x", "type": "quantitative", "axis": null},
        "y": {"field": "y", "type": "quantitative", "axis": null}
      }
    },
    {
      "data": {"name": "noteText"},
      "mark": {"type": "text", "clip": false, "font": "DejaVu Sans", "fontSize": 33, "align": "right", "baseline": "alphabetic", "color": "#1a1a1a"},
      "encoding": {
        "x": {"field": "x", "type": "quantitative", "axis": null},
        "y": {"field": "y", "type": "quantitative", "axis": null},
        "text": {"field": "text", "type": "nominal"}
      }
    },
    {
      "data": {"name": "titles"},
      "transform": [{"filter": "datum.axis == 'y' && datum.part == 'base'"}],
      "mark": {"type": "text", "clip": false, "font": "Liberation Sans", "fontWeight": "bold", "fontSize": 50, "angle": 270, "align": "left", "baseline": "alphabetic", "color": "black"},
      "encoding": {
        "x": {"field": "x", "type": "quantitative", "axis": null},
        "y": {"field": "y", "type": "quantitative", "axis": null},
        "text": {"field": "t", "type": "nominal"}
      }
    },
    {
      "data": {"name": "titles"},
      "transform": [{"filter": "datum.axis == 'y' && datum.part == 'script'"}],
      "mark": {"type": "text", "clip": false, "font": "Liberation Sans", "fontWeight": "bold", "fontSize": 32, "angle": 270, "align": "left", "baseline": "alphabetic", "color": "black"},
      "encoding": {
        "x": {"field": "x", "type": "quantitative", "axis": null},
        "y": {"field": "y", "type": "quantitative", "axis": null},
        "text": {"field": "t", "type": "nominal"}
      }
    },
    {
      "data": {"name": "titles"},
      "transform": [{"filter": "datum.axis == 'x' && datum.part == 'base'"}],
      "mark": {"type": "text", "clip": false, "font": "Liberation Sans", "fontWeight": "bold", "fontSize": 50, "align": "left", "baseline": "alphabetic", "color": "black"},
      "encoding": {
        "x": {"field": "x", "type": "quantitative", "axis": null},
        "y": {"field": "y", "type": "quantitative", "axis": null},
        "text": {"field": "t", "type": "nominal"}
      }
    },
    {
      "data": {"name": "titles"},
      "transform": [{"filter": "datum.axis == 'x' && datum.part == 'script'"}],
      "mark": {"type": "text", "clip": false, "font": "Liberation Sans", "fontWeight": "bold", "fontSize": 32, "align": "left", "baseline": "alphabetic", "color": "black"},
      "encoding": {
        "x": {"field": "x", "type": "quantitative", "axis": null},
        "y": {"field": "y", "type": "quantitative", "axis": null},
        "text": {"field": "t", "type": "nominal"}
      }
    }
  ],
  "resolve": {"axis": {"x": "independent", "y": "independent"}}
}
